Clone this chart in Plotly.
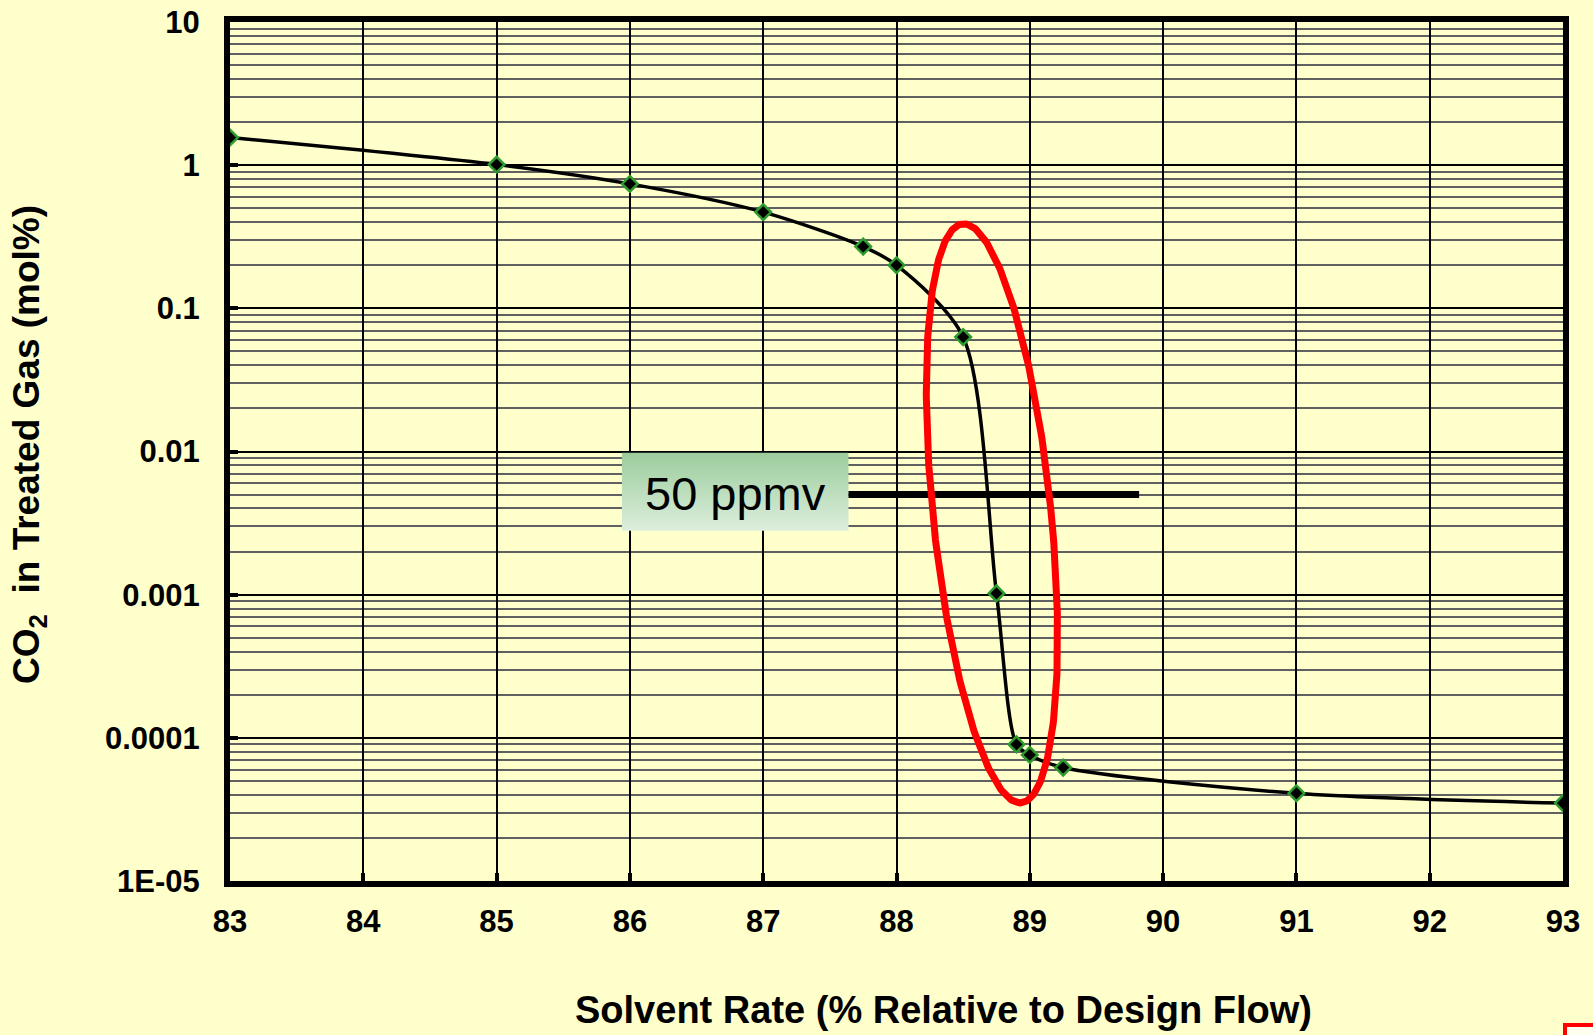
import numpy as np
import plotly.graph_objects as go

# Solvent circulation rate (% of design flow) vs CO2 slip in treated gas (mol%)
solvent_rate = [83, 85, 86, 87, 87.75, 88, 88.5, 88.75, 88.9, 89, 89.25, 91, 93]
co2_mol_pct = [1.56, 1.01, 0.74, 0.47, 0.27, 0.20, 0.063, 0.00102,
               9.0e-5, 7.6e-5, 6.2e-5, 4.1e-5, 3.5e-5]

x_ticks = [83, 84, 85, 86, 87, 88, 89, 90, 91, 92, 93]
y_ticks = [1e-5, 1e-4, 1e-3, 1e-2, 1e-1, 1, 10]
y_tick_text = ["1E-05", "0.0001", "0.001", "0.01", "0.1", "1", "10"]

spec_label = "50 ppmv"
spec_value = 0.005  # 50 ppmv expressed in mol%

BG = "#FFFFCC"
W, H = 1593, 1035
M_L, M_R, M_T, M_B = 230, 30, 22, 154
plot_w = W - M_L - M_R
plot_h = H - M_T - M_B
x_range = [83, 93]
y_log_range = [-5, 1]
px_per_x = plot_w / (x_range[1] - x_range[0])
px_per_dec = plot_h / (y_log_range[1] - y_log_range[0])

fig = go.Figure()

# label box with a vertical green gradient
bx0, bx1, by0, by1 = 85.94, 87.64, 0.0028, 0.0098
fig.add_trace(go.Scatter(
    x=[bx0, bx1, bx1, bx0, bx0], y=[by0, by0, by1, by1, by0],
    mode="lines", line=dict(width=0), fill="toself",
    fillgradient=dict(type="vertical",
                      colorscale=[[0, "#DDEEDD"], [1, "#9BCD9C"]]),
    hoverinfo="skip", showlegend=False))

# spec line
fig.add_trace(go.Scatter(
    x=[bx1, 89.82], y=[spec_value, spec_value], mode="lines",
    line=dict(color="black", width=7), hoverinfo="skip", showlegend=False))

# smoothed CO2 curve with diamond markers
fig.add_trace(go.Scatter(
    x=solvent_rate, y=co2_mol_pct, mode="lines+markers",
    line=dict(color="black", width=3.5, shape="spline", smoothing=0.8),
    marker=dict(symbol="diamond", size=12, color="black",
                line=dict(color="#2E9B2E", width=2.5)),
    showlegend=False))

# highlight ellipse around the steep drop (pixel-true ellipse mapped to axes)
xc, lc = 88.716, -2.432
a_px, b_px, tilt = 291.0, 59.0, np.deg2rad(5.8)
t = np.linspace(0, 2 * np.pi, 400)
u = b_px * np.cos(t)
v = a_px * np.sin(t)
dx = u * np.cos(tilt) - v * np.sin(tilt)
dy = u * np.sin(tilt) + v * np.cos(tilt)
fig.add_trace(go.Scatter(
    x=xc + dx / px_per_x, y=10 ** (lc + dy / px_per_dec), mode="lines",
    line=dict(color="#FF0000", width=7), hoverinfo="skip", showlegend=False))

fig.add_annotation(x=(bx0 + bx1) / 2, y=np.log10(spec_value) + 0.01,
                   text=spec_label, showarrow=False,
                   font=dict(family="Liberation Sans, Arial", size=47, color="black"),
                   xanchor="center", yanchor="middle")

# axis titles
fig.add_annotation(xref="paper", yref="paper", x=(944 - M_L) / plot_w,
                   y=-(1010 - (H - M_B)) / plot_h,
                   text="Solvent Rate (% Relative to Design Flow)", showarrow=False,
                   font=dict(family="Liberation Sans, Arial",
                             size=38, color="black", weight="bold"),
                   xanchor="center", yanchor="middle")
fig.add_annotation(xref="paper", yref="paper", x=(29 - M_L) / plot_w,
                   y=((H - M_B) - 445) / plot_h,
                   text="CO<sub>2</sub>\u00a0 in Treated Gas (mol%)", showarrow=False,
                   textangle=-90,
                   font=dict(family="Liberation Sans, Arial", size=37, color="black",
                             weight="bold"),
                   xanchor="center", yanchor="middle")

# partially visible red frame at the lower right corner
fig.add_shape(type="rect", xref="paper", yref="paper",
              x0=(1565 - M_L) / plot_w, x1=1.2,
              y0=-(1025 - (H - M_B)) / plot_h, y1=-0.4,
              line=dict(color="#FF0000", width=4), fillcolor="#FFFFF0", layer="above")

tick_font = dict(family="Liberation Sans, Arial", size=31, color="black", weight="bold")

fig.update_layout(
    width=W, height=H,
    margin=dict(l=M_L, r=M_R, t=M_T, b=M_B, pad=0),
    paper_bgcolor=BG, plot_bgcolor=BG,
    xaxis=dict(range=x_range, tickmode="array", tickvals=x_ticks,
               showgrid=True, gridcolor="black", gridwidth=2,
               showline=True, linecolor="black", linewidth=6, mirror=True,
               ticks="inside", ticklen=8, tickwidth=4, tickcolor="black",
               tickfont=tick_font, ticklabelstandoff=8, zeroline=False,
               automargin=False),
    yaxis=dict(type="log", range=y_log_range, tickmode="array",
               tickvals=y_ticks, ticktext=y_tick_text,
               showgrid=True, gridcolor="black", gridwidth=2,
               minor=dict(dtick="D1", showgrid=True, gridcolor="#606060",
                          gridwidth=2, ticks=""),
               showline=True, linecolor="black", linewidth=6, mirror=True,
               ticks="inside", ticklen=8, tickwidth=4, tickcolor="black",
               tickfont=tick_font, ticklabelstandoff=18, zeroline=False,
               automargin=False),
)

fig.write_html("out.html")
